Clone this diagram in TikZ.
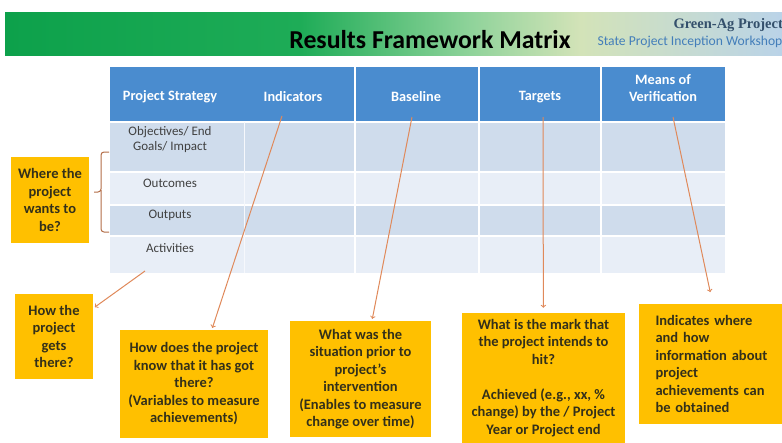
\documentclass[tikz,border=0pt]{standalone}
\usepackage{fontspec}
\setmainfont{Carlito}
\newfontfamily\serifbold{Liberation Serif}
\usetikzlibrary{positioning}

\definecolor{hdrblue}{HTML}{4A8CCF}
\definecolor{rowdark}{HTML}{CFDCEC}
\definecolor{rowlight}{HTML}{E8EEF7}
\definecolor{notegold}{HTML}{FFC000}
\definecolor{notetext}{HTML}{33301A}
\definecolor{arrcol}{HTML}{E0895A}
\definecolor{projcol}{HTML}{34506C}
\definecolor{gA}{HTML}{0DA14B}
\definecolor{gB}{HTML}{1EAC57}
\definecolor{gC}{HTML}{8FD39A}
\definecolor{gD}{HTML}{D3E3B8}
\definecolor{gE}{HTML}{BAD3E8}

\tikzset{
  note/.style={fill=notegold, text=notetext, align=center, inner sep=0pt,
    font=\bfseries\fontsize{14.5}{17.5}\selectfont},
  hdr/.style={text=white, align=center, font=\bfseries\fontsize{14.3}{17}\selectfont},
  rowtxt/.style={text=black!75, align=center, font=\fontsize{13}{15}\selectfont},
  arr/.style={draw=arrcol, line width=1pt, ->, shorten >=2pt},
}

\begin{document}
\begin{tikzpicture}[x=1pt,y=-1pt]
    \useasboundingbox[fill=white] (0,0) rectangle (782,442);

    % Banner
    \shade[left color=gA, right color=gB] (5,12) rectangle (300.5,55);
    \shade[left color=gB, right color=gC] (300,12) rectangle (470.5,55);
    \shade[left color=gC, right color=gD] (470,12) rectangle (580.5,55);
    \shade[left color=gD, right color=gE] (580,12) rectangle (782,55);
    \node (title) at (430,40) {\bfseries\fontsize{25.8}{28}\selectfont Results Framework Matrix};
    \node[anchor=west, text=projcol] (proj) at (670,25)
      {\serifbold\bfseries\fontsize{14.5}{16}\selectfont Green-Ag Project};
    \node[anchor=west, text=hdrblue!90!black] (wksp) at (594,42)
      {\fontsize{13.6}{15}\selectfont State Project Inception Workshop};

    % Tabella
    \fill[hdrblue] (110,67) rectangle (725,122);
    \foreach \ya/\yb/\c in {122/172/rowdark, 172/205/rowlight, 205/236/rowdark, 236/273/rowlight} {
      \fill[\c] (110,\ya) rectangle (725,\yb);
      \draw[white, line width=1.2pt] (110,\ya) -- (725,\ya);
    }
    \foreach \x in {355,479,601} {
      \draw[white, line width=1.2pt] (\x,67) -- (\x,273);
    }
    \draw[white!60!rowlight, line width=0.6pt] (244,122) -- (244,273);

    % Intestazioni
    \node[hdr] (hStr) at (170,97) {Project Strategy};
    \node[hdr] (hInd) at (293,97) {Indicators};
    \node[hdr] (hBase) at (416,97) {Baseline};
    \node[hdr] (hTar) at (540,97) {Targets};
    \node[hdr] (hMoV) at (663,88) {Means of\\Verification};

    % Righe
    \node[rowtxt] (rObj) at (170,140) {Objectives/ End\\Goals/ Impact};
    \node[rowtxt] (rOut) at (170,183) {Outcomes};
    \node[rowtxt] (rOutp) at (170,215) {Outputs};
    \node[rowtxt] (rAct) at (170,248) {Activities};

    % Graffa
    \draw[arrcol!80!black, line width=1pt, rounded corners=3pt]
      (109,152) -- (101,152) -- (101,192) -- (94,192);
    \draw[arrcol!80!black, line width=1pt, rounded corners=3pt]
      (101,190) -- (101,232) -- (109,232);

    % Note
    \node[note, minimum width=78pt, minimum height=86pt] (nWhere) at (50,200)
      {Where the\\project\\wants to\\be?};
    \node[note, minimum width=78pt, minimum height=85pt] (nHow) at (54,336.5)
      {How the\\project\\gets\\there?};
    \node[note, minimum width=148pt, minimum height=108pt] (nInd) at (194,384)
      {How does the project\\know that it has got\\there?\\(Variables to measure\\achievements)};
    \node[note, minimum width=141pt, minimum height=116pt] (nBase) at (360.5,379)
      {What was the\\situation prior to\\project's\\intervention\\(Enables to measure\\change over time)};
    \node[note, minimum width=163pt, minimum height=130pt] (nTar) at (543.5,378)
      {What is the mark that\\the project intends to\\hit?\\[17.5pt]Achieved (e.g., xx, \%\\change) by the / Project\\Year or Project end};
    \node[note, minimum width=173pt, minimum height=120pt, text width=140pt, align=left] (nMoV) at (725.5,364)
      {Indicates where\\and how\\information about\\project\\achievements can\\be obtained};

    % Frecce
    \coordinate (tAct) at (145,271);
    \coordinate (tInd) at (282,116);
    \coordinate (tBase) at (412,117);
    \coordinate (tTar) at (543,117);
    \coordinate (tMoV) at (673,117);
    \draw[arr] (tAct) -- (nHow);
    \draw[arr] (tInd) -- (nInd);
    \draw[arr] (tBase) -- (nBase);
    \draw[arr, shorten >=5pt] (tTar) -- (nTar);
    \draw[arr, shorten >=12pt] (tMoV) -- (nMoV);
\end{tikzpicture}
\end{document}
